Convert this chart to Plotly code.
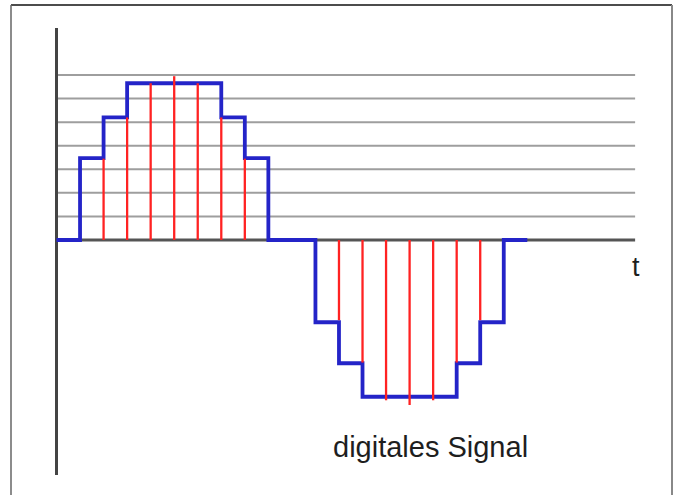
import plotly.graph_objects as go

# --- data (time in sample steps, amplitude in quantisation levels) ---
grid_levels = [1, 2, 3, 4, 5, 6, 7]
axis_t_end = 24.58
yaxis_top, yaxis_bottom = 8.99, -9.97

step_t = [0, 1, 2, 3, 7, 8, 9, 11, 12, 13, 17, 18, 19, 20]
step_v = [0, 3.47, 5.2, 6.65, 5.2, 3.47, 0, -3.49, -5.23, -6.65, -5.23, -3.49, 0, 0]

sample_t = [2, 3, 4, 5, 6, 7, 8, 12, 13, 14, 15, 16, 17, 18]
sample_v = [3.45, 5.2, 6.65, 6.95, 6.65, 5.2, 3.45,
            -3.4, -5.2, -6.8, -7.0, -6.8, -5.2, -3.4]

label_signal = "digitales Signal"
label_t = "t"

# --- build figure ---
fig = go.Figure()

gx, gy = [], []
for g in grid_levels:
    gx += [0, axis_t_end, None]
    gy += [g, g, None]
fig.add_trace(go.Scatter(x=gx, y=gy, mode="lines",
                         line=dict(color="#9e9e9e", width=2), hoverinfo="skip"))

fig.add_trace(go.Scatter(x=[0, axis_t_end], y=[0, 0], mode="lines",
                         line=dict(color="#555555", width=3), hoverinfo="skip"))
fig.add_trace(go.Scatter(x=[0, 0], y=[yaxis_top, yaxis_bottom], mode="lines",
                         line=dict(color="#444444", width=3), hoverinfo="skip"))

fig.add_trace(go.Scatter(x=step_t, y=step_v, mode="lines", line_shape="hv",
                         line=dict(color="#2424c8", width=3.8), hoverinfo="skip"))

sx, sy = [], []
for t, v in zip(sample_t, sample_v):
    sx += [t, t, None]
    sy += [0, v, None]
fig.add_trace(go.Scatter(x=sx, y=sy, mode="lines",
                         line=dict(color="#ff2222", width=2.3), hoverinfo="skip"))

fig.add_annotation(x=15.9, y=-8.78, text=label_signal, showarrow=False,
                   xanchor="center", yanchor="middle",
                   font=dict(family="Liberation Sans, Arial", size=29, color="#1e1e1e"))
fig.add_annotation(x=24.6, y=-1.15, text=label_t, showarrow=False,
                   xanchor="center", yanchor="middle",
                   font=dict(family="Liberation Sans, Arial", size=27, color="#1e1e1e"))

W, H = 676, 495
bl, bt, br = 11 / W, 1 - 5 / H, 672 / W
fig.add_shape(type="line", xref="paper", yref="paper", x0=bl, x1=br, y0=bt, y1=bt,
              line=dict(color="#111111", width=1.5))
fig.add_shape(type="line", xref="paper", yref="paper", x0=bl, x1=bl, y0=-0.05, y1=bt,
              line=dict(color="#666666", width=1.5))
fig.add_shape(type="line", xref="paper", yref="paper", x0=br, x1=br, y0=-0.05, y1=bt,
              line=dict(color="#888888", width=2))

x0 = -56.5 / 23.54
y_top = 240 / 23.57
fig.update_layout(
    width=W, height=H, autosize=False,
    margin=dict(l=0, r=0, t=0, b=0),
    paper_bgcolor="white", plot_bgcolor="white",
    showlegend=False,
    xaxis=dict(range=[x0, x0 + W / 23.54], visible=False, fixedrange=True),
    yaxis=dict(range=[y_top - H / 23.57, y_top], visible=False, fixedrange=True),
)

fig.write_html("out.html", config={"displayModeBar": False},
               post_script="document.body.style.margin='0';document.body.style.overflow='hidden';")
